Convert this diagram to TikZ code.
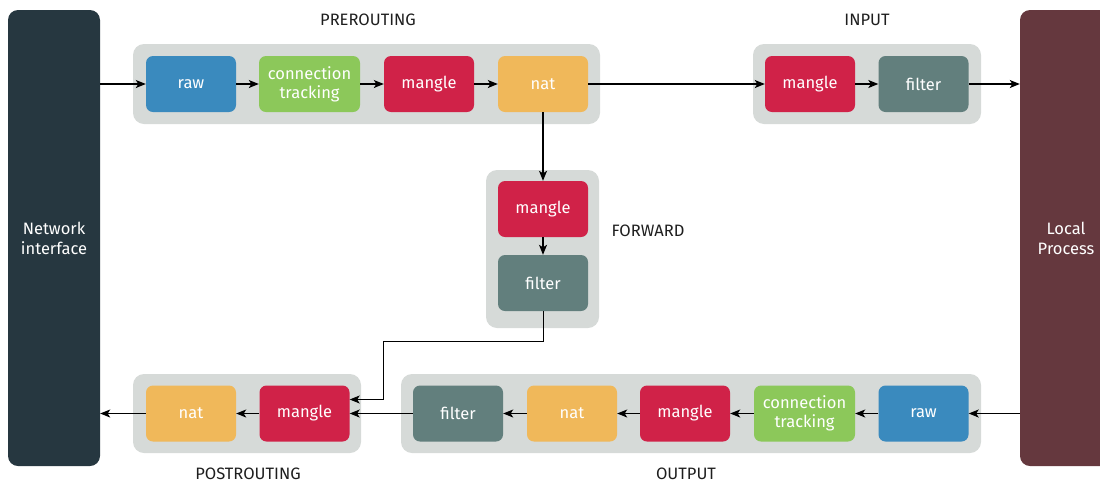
\documentclass[tikz,border=0pt]{standalone}
\usepackage{fontspec}
\setmainfont{Fira Sans}
\usetikzlibrary{arrows.meta}
\definecolor{netc}{RGB}{38,55,64}
\definecolor{procc}{RGB}{101,56,62}
\definecolor{groupc}{RGB}{214,218,216}
\definecolor{rawc}{RGB}{58,138,190}
\definecolor{ctc}{RGB}{140,200,90}
\definecolor{manglec}{RGB}{208,34,72}
\definecolor{natc}{RGB}{240,184,90}
\definecolor{filterc}{RGB}{98,127,125}
\definecolor{labelc}{RGB}{30,30,30}
\tikzset{
  table/.style={inner sep=0pt, text=white, font=\fontsize{16.5}{19}\selectfont, align=center,
    rounded corners=7pt, minimum height=56pt},
  tbl/.style={table, minimum width=90pt},
  tblwide/.style={table, minimum width=101pt},
  rawbox/.style={tbl, fill=rawc},
  ctbox/.style={tblwide, fill=ctc},
  manglebox/.style={tbl, fill=manglec},
  natbox/.style={tbl, fill=natc},
  filterbox/.style={tbl, fill=filterc},
  chain/.style={fill=groupc, rounded corners=11pt},
  side/.style={inner sep=0pt, text=white, font=\fontsize{16.5}{20}\selectfont, align=center,
    rounded corners=10pt, minimum height=456pt},
  hooklabel/.style={text=labelc, font=\fontsize{16.5}{19}\selectfont},
  flow/.style={draw=black, line width=1.1pt, -{Stealth[length=10pt,width=8pt,inset=2.5pt]}}
}
\begin{document}
\begin{tikzpicture}[x=1pt, y=-1pt]
\useasboundingbox (0,0) rectangle (1100,483);
\begin{scope}
\clip (0,0) rectangle (1100,483);
% end points of the packet path
\node[side, fill=netc, minimum width=92pt] (net) at (54,238) {Network\\interface};
\node[side, fill=procc, minimum width=92pt] (proc) at (1066,238) {Local\\Process};

% hook backgrounds
\fill[chain] (133,44) rectangle (600,124);
\fill[chain] (753,44) rectangle (981,124);
\fill[chain] (486,170) rectangle (599,328);
\fill[chain] (133,374) rectangle (361,453);
\fill[chain] (401,374) rectangle (981,453);

% PREROUTING
\node[rawbox] (pr-raw) at (191,84) {raw};
\node[ctbox] (pr-ct) at (309.5,84) {connection\\tracking};
\node[manglebox] (pr-mangle) at (429,84) {mangle};
\node[natbox] (pr-nat) at (543,84) {nat};
% INPUT
\node[manglebox] (in-mangle) at (810,84) {mangle};
\node[filterbox] (in-filter) at (923.5,84) {filter};
% FORWARD
\node[manglebox] (fw-mangle) at (543,209) {mangle};
\node[filterbox] (fw-filter) at (543,283) {filter};
% POSTROUTING
\node[natbox] (po-nat) at (191,413.5) {nat};
\node[manglebox] (po-mangle) at (304.5,413.5) {mangle};
% OUTPUT
\node[filterbox] (out-filter) at (458,413.5) {filter};
\node[natbox] (out-nat) at (572,413.5) {nat};
\node[manglebox] (out-mangle) at (685,413.5) {mangle};
\node[ctbox] (out-ct) at (804.5,413.5) {connection\\tracking};
\node[rawbox] (out-raw) at (923.5,413.5) {raw};

% hook names
\node[hooklabel] (l-pre) at (368,20) {PREROUTING};
\node[hooklabel] (l-in) at (867,20) {INPUT};
\node[hooklabel] (l-fw) at (648,231) {FORWARD};
\node[hooklabel] (l-post) at (248,474) {POSTROUTING};
\node[hooklabel] (l-out) at (686,474) {OUTPUT};

% incoming path
\draw[flow] (net.east |- pr-raw.west) -- (pr-raw.west);
\draw[flow] (pr-raw) -- (pr-ct);
\draw[flow] (pr-ct) -- (pr-mangle);
\draw[flow] (pr-mangle) -- (pr-nat);
\draw[flow] (pr-nat) -- (in-mangle);
\draw[flow] (in-mangle) -- (in-filter);
\draw[flow] (in-filter.east) -- (proc.west |- in-filter.east);
% forwarded path
\draw[flow] (pr-nat) -- (fw-mangle);
\draw[flow] (fw-mangle) -- (fw-filter);
\coordinate (bend) at (383,341);
\draw[flow, line width=0.9pt] (fw-filter.south) |- (bend) |- ([yshift=14pt]po-mangle.east);
% outgoing path
\draw[flow] (proc.west |- out-raw.east) -- (out-raw.east);
\draw[flow] (out-raw) -- (out-ct);
\draw[flow] (out-ct) -- (out-mangle);
\draw[flow] (out-mangle) -- (out-nat);
\draw[flow] (out-nat) -- (out-filter);
\draw[flow] (out-filter) -- (po-mangle);
\draw[flow] (po-mangle) -- (po-nat);
\draw[flow] (po-nat.west) -- (net.east |- po-nat.west);
\end{scope}
\end{tikzpicture}
\end{document}
